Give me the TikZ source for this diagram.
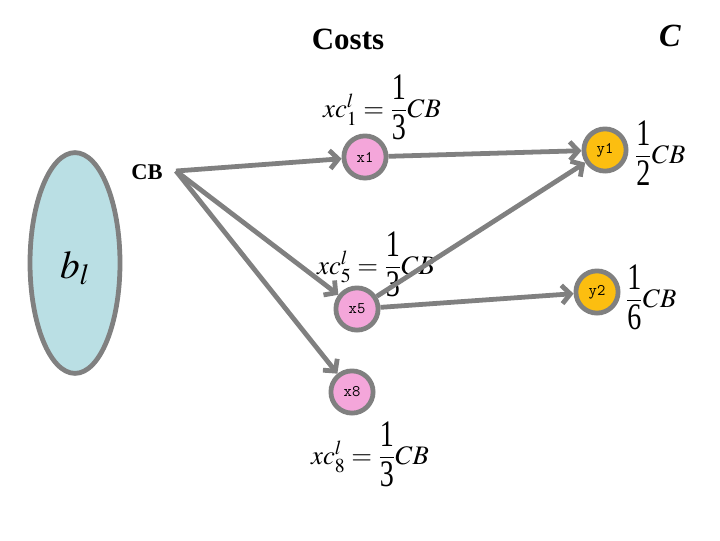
\documentclass[tikz,border=0pt]{standalone}
\usepackage{amsmath}
\usepackage{mathptmx}
\usepackage{fontspec}
\setmainfont{Liberation Serif}
\usetikzlibrary{arrows.meta,positioning,shapes.geometric}
\definecolor{edgegray}{RGB}{128,128,128}
\definecolor{setblue}{RGB}{186,223,228}
\definecolor{xpink}{RGB}{244,166,218}
\definecolor{yorange}{RGB}{252,190,16}

\tikzset{
  flow/.style={draw=edgegray,line width=3.4pt,-{Straight Barb[length=6pt,width=13pt]}},
  xnode/.style={circle,draw=edgegray,line width=3.4pt,fill=xpink,minimum size=30pt,inner sep=0pt,font=\ttfamily\fontsize{11.5}{12}\selectfont},
  ynode/.style={xnode,fill=yorange},
  costlbl/.style={font=\fontsize{19}{24}\selectfont}
}
% tall digits of the fractions
\newcommand{\tdig}[1]{\scalebox{1.05}[1.4]{#1}}

\begin{document}
\begin{tikzpicture}[x=0.025cm,y=-0.025cm]
  \useasboundingbox (0,0) rectangle (720,540);
  % titles
  \node[font=\bfseries\fontsize{22}{26}\selectfont] (costs) at (348,39) {Costs};
  \node[font=\bfseries\itshape\fontsize{23}{28}\selectfont] (cap) at (670,36) {C};
  % budget set
  \node[ellipse,draw=edgegray,line width=3.4pt,fill=setblue,minimum width=64pt,minimum height=157pt] (bl) at (75,263) {};
  \node[font=\fontsize{28}{32}\selectfont] (bllbl) at (75,268) {$b_l$};
  \node[font=\bfseries\fontsize{16}{18}\selectfont] (cb) at (147,172) {CB};
  \coordinate (src) at (176,171);
  % nodes
  \node[xnode] (x1) at (365,157) {x1};
  \node[xnode] (x5) at (357,309) {x5};
  \node[xnode] (x8) at (352,392) {x8};
  \node[ynode] (y1) at (605,150) {y1};
  \node[ynode] (y2) at (597,292) {y2};
  % cost labels
  \node[costlbl] (c1) at (382,107) {$xc_1^l=\dfrac{\tdig{1}}{\tdig{3}}CB$};
  \node[costlbl] (c5) at (376,264) {$xc_5^l=\dfrac{\tdig{1}}{\tdig{3}}CB$};
  \node[costlbl] (c8) at (370,454) {$xc_8^l=\dfrac{\tdig{1}}{\tdig{3}}CB$};
  \node[costlbl] (cy1) at (660,153) {$\dfrac{\tdig{1}}{\tdig{2}}CB$};
  \node[costlbl] (cy2) at (651,297) {$\dfrac{\tdig{1}}{\tdig{6}}CB$};
  % arrows
  \draw[flow] (src) -- (x1);
  \draw[flow] (src) -- (x5);
  \draw[flow] (src) -- (x8);
  \draw[flow] (x1) -- (y1);
  \draw[flow] (x5) -- (y1);
  \draw[flow] (x5) -- (y2);
\end{tikzpicture}
\end{document}
